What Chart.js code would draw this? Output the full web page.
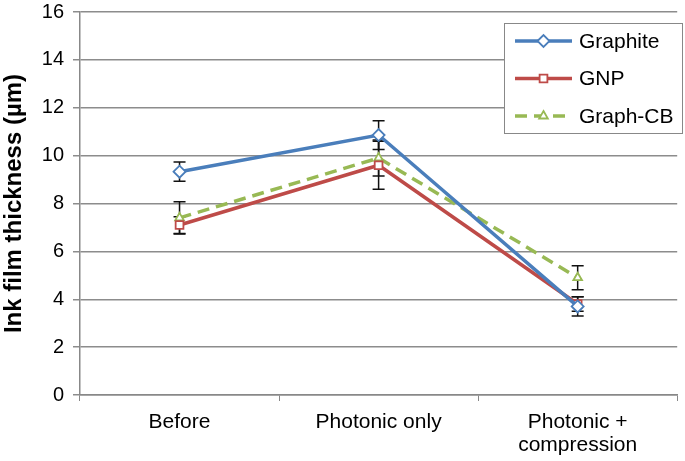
<!DOCTYPE html>
<html>
<head>
<meta charset="utf-8">
<script src="https://cdn.jsdelivr.net/npm/chart.js@4/dist/chart.umd.min.js"></script>
<style>
html,body{margin:0;padding:0;background:#fff;}
#wrap{width:685px;height:461px;position:relative;}
</style>
</head>
<body>
<div id="wrap"><canvas id="c" width="685" height="461"></canvas></div>
<script>
const categories = ['Before', 'Photonic only', ['Photonic +', 'compression']];
const yTicks = [0, 2, 4, 6, 8, 10, 12, 14, 16];
const graphite = [9.33, 10.86, 3.7];
const graphiteErr = [0.4, 0.6, 0.4];
const gnp = [7.1, 9.6, 3.8];
const gnpErr = [0.35, 1.0, 0.3];
const graphCB = [7.4, 9.9, 4.9];
const graphCBErr = [0.67, 0.75, 0.5];
const seriesNames = ['Graphite', 'GNP', 'Graph-CB'];

const errors = [graphiteErr, gnpErr, graphCBErr];
const FONT = '"Liberation Sans", Arial, sans-serif';

const errorBarPlugin = {
  id: 'errorBars',
  beforeDatasetsDraw(chart) {
    const ctx = chart.ctx;
    const y = chart.scales.y;
    ctx.save();
    ctx.strokeStyle = '#111';
    ctx.lineWidth = 1.5;
    chart.data.datasets.forEach((ds, i) => {
      const meta = chart.getDatasetMeta(i);
      meta.data.forEach((pt, j) => {
        const v = ds.data[j], e = errors[i][j];
        const x = pt.x;
        const yt = y.getPixelForValue(v + e);
        const yb = y.getPixelForValue(v - e);
        ctx.beginPath();
        ctx.moveTo(x, yt); ctx.lineTo(x, yb);
        ctx.moveTo(x - 6, yt); ctx.lineTo(x + 6, yt);
        ctx.moveTo(x - 6, yb); ctx.lineTo(x + 6, yb);
        ctx.stroke();
      });
    });
    ctx.restore();
  }
};

const legendPlugin = {
  id: 'boxLegend',
  afterDraw(chart) {
    const ctx = chart.ctx;
    const bx = 504, by = 23, bw = 178, bh = 110;
    ctx.save();
    ctx.fillStyle = '#fff';
    ctx.fillRect(bx, by, bw, bh);
    ctx.strokeStyle = '#888';
    ctx.lineWidth = 1;
    ctx.strokeRect(bx + 0.5, by + 0.5, bw, bh);
    chart.data.datasets.forEach((ds, i) => {
      const cy = 41 + i * 37.5;
      const x0 = 515, x1 = 572;
      ctx.strokeStyle = ds.borderColor;
      ctx.lineWidth = ds.borderWidth;
      ctx.setLineDash(ds.borderDash || []);
      ctx.beginPath(); ctx.moveTo(x0, cy); ctx.lineTo(x1, cy); ctx.stroke();
      ctx.setLineDash([]);
      ctx.fillStyle = '#fff';
      ctx.strokeStyle = ds.borderColor;
      ctx.lineWidth = 1.8;
      Chart.helpers.drawPoint(ctx, {
        pointStyle: ds.pointStyle, radius: ds.pointRadius, borderWidth: 1.8
      }, (x0 + x1) / 2, cy);
      ctx.fillStyle = '#000';
      ctx.font = '21px ' + FONT;
      ctx.textBaseline = 'middle';
      ctx.textAlign = 'left';
      ctx.fillText(ds.label, 579, cy + 1);
    });
    ctx.restore();
  }
};

function mk(label, data, color, style, radius, dash) {
  return {
    label, data,
    borderColor: color,
    backgroundColor: '#fff',
    borderWidth: 3.5,
    borderDash: dash,
    pointStyle: style,
    pointRadius: radius,
    pointBackgroundColor: '#fff',
    pointBorderColor: color,
    pointBorderWidth: 1.8,
    tension: 0,
    fill: false
  };
}

new Chart(document.getElementById('c'), {
  type: 'line',
  data: {
    labels: categories,
    datasets: [
      mk(seriesNames[0], graphite, '#4a7ebb', 'rectRot', 6, undefined),
      mk(seriesNames[1], gnp, '#be4b48', 'rect', 5.5, undefined),
      mk(seriesNames[2], graphCB, '#98b954', 'triangle', 5, [12, 7])
    ]
  },
  options: {
    responsive: false,
    animation: false,
    layout: { padding: { top: 12, right: 2, left: 0, bottom: 0 } },
    plugins: { legend: { display: false }, tooltip: { enabled: false } },
    scales: {
      x: {
        offset: true,
        grid: { display: true, offset: true, drawOnChartArea: false, drawTicks: true, tickLength: 6, color: '#888', lineWidth: 1 },
        border: { display: true, color: '#888', width: 1.5 },
        ticks: { color: '#000', font: { size: 21, family: FONT, lineHeight: 1.1 }, padding: 10, maxRotation: 0, autoSkip: false },
        afterFit(s) { s.height = 66; s.paddingLeft = 0; s.paddingRight = 0; }
      },
      y: {
        min: 0, max: 16,
        afterBuildTicks(s) { s.ticks = yTicks.map(v => ({ value: v })); },
        grid: { color: '#8c8c8c', lineWidth: 1.5, tickLength: 7, drawTicks: true },
        border: { display: true, color: '#888', width: 1.5 },
        ticks: { color: '#000', font: { size: 20, family: FONT }, padding: 9 },
        title: { display: true, text: 'Ink film thickness (µm)', color: '#000', font: { size: 24, weight: 'bold', family: FONT }, padding: { top: 0, bottom: 0 } },
        afterFit(s) { s.width = 80; s.paddingTop = 0; s.paddingBottom = 0; }
      }
    }
  },
  plugins: [errorBarPlugin, legendPlugin]
});
</script>
</body>
</html>
